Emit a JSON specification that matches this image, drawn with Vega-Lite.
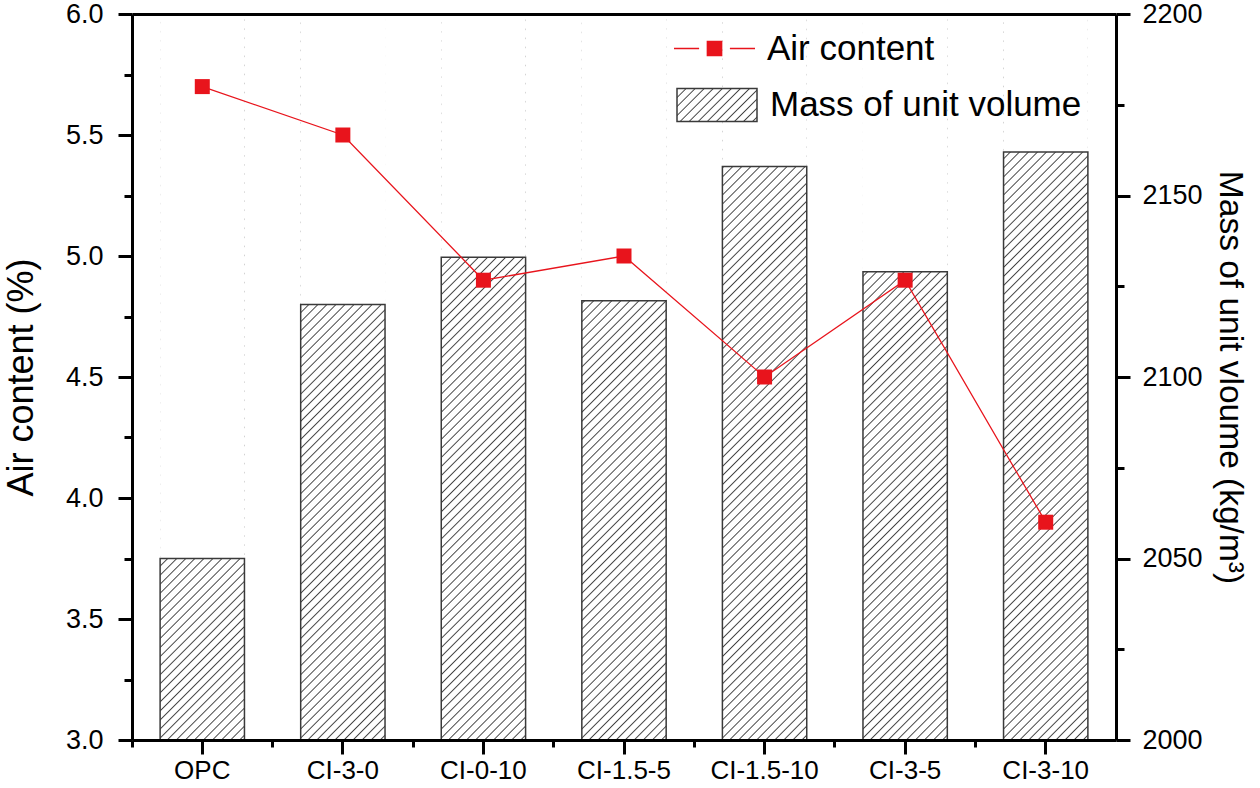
{
"$schema":"https://vega.github.io/schema/vega-lite/v6.json",
"autosize":{"type":"none"},
"padding":{"left":132,"top":14,"right":144,"bottom":48},
"width":984,"height":726,
"background":"white",
"config":{"view":{"stroke":null},"axis":{"grid":false,"labelFont":"Liberation Sans","titleFont":"Liberation Sans","labelColor":"black","titleColor":"black","tickColor":"black","domainColor":"black"},"legend":{"labelFont":"Liberation Sans","labelColor":"black","labelLimit":1000}},
"data":{"values":[
{"sample":"OPC","air":5.7,"mass":2050},
{"sample":"CI-3-0","air":5.5,"mass":2120},
{"sample":"CI-0-10","air":4.9,"mass":2133},
{"sample":"CI-1.5-5","air":5.0,"mass":2121},
{"sample":"CI-1.5-10","air":4.5,"mass":2158},
{"sample":"CI-3-5","air":4.9,"mass":2129},
{"sample":"CI-3-10","air":3.9,"mass":2162}
]},
"resolve":{"scale":{"y":"independent"},"axis":{"x":"independent","y":"independent"}},
"layer":[
{"mark":{"type":"bar","opacity":1,"strokeWidth":1.5,"fill":{"gradient":"linear","x1":0,"y1":0,"x2":9.672,"y2":3.99,"stops":[
{"offset":0,"color":"#444"},{"offset":0.0015,"color":"#fff"},
{"offset":0.0085,"color":"#fff"},{"offset":0.01,"color":"#444"},{"offset":0.0115,"color":"#fff"},
{"offset":0.0185,"color":"#fff"},{"offset":0.02,"color":"#444"},{"offset":0.0215,"color":"#fff"},
{"offset":0.0285,"color":"#fff"},{"offset":0.03,"color":"#444"},{"offset":0.0315,"color":"#fff"},
{"offset":0.0385,"color":"#fff"},{"offset":0.04,"color":"#444"},{"offset":0.0415,"color":"#fff"},
{"offset":0.0485,"color":"#fff"},{"offset":0.05,"color":"#444"},{"offset":0.0515,"color":"#fff"},
{"offset":0.0585,"color":"#fff"},{"offset":0.06,"color":"#444"},{"offset":0.0615,"color":"#fff"},
{"offset":0.0685,"color":"#fff"},{"offset":0.07,"color":"#444"},{"offset":0.0715,"color":"#fff"},
{"offset":0.0785,"color":"#fff"},{"offset":0.08,"color":"#444"},{"offset":0.0815,"color":"#fff"},
{"offset":0.0885,"color":"#fff"},{"offset":0.09,"color":"#444"},{"offset":0.0915,"color":"#fff"},
{"offset":0.0985,"color":"#fff"},{"offset":0.1,"color":"#444"},{"offset":0.1015,"color":"#fff"},
{"offset":0.1085,"color":"#fff"},{"offset":0.11,"color":"#444"},{"offset":0.1115,"color":"#fff"},
{"offset":0.1185,"color":"#fff"},{"offset":0.12,"color":"#444"},{"offset":0.1215,"color":"#fff"},
{"offset":0.1285,"color":"#fff"},{"offset":0.13,"color":"#444"},{"offset":0.1315,"color":"#fff"}
]}},
"encoding":{
"x":{"field":"sample","type":"nominal","sort":null,"scale":{"paddingInner":0.4,"paddingOuter":0.2},"axis":null},
"y":{"datum":2000,"type":"quantitative","scale":{"domain":[2000,2200]},"axis":null},
"y2":{"datum":2000},
"stroke":{"datum":"Mass of unit volume","type":"nominal","scale":{"range":["#3a3a3a"]},
"legend":{"orient":"none","legendX":544,"legendY":50,"title":null,"padding":0,"zindex":1,
"symbolType":"M-1,-0.41H1V0.41H-1Z","symbolSize":6400,"symbolStrokeWidth":1.5,"labelFontSize":35,"labelOffset":12,"labelLimit":1000}}}},
{"mark":{"type":"bar","opacity":1,"fill":{"gradient":"linear","x1":0,"y1":0,"x2":0.14291,"y2":1.23006,"stops":[
{"offset":0,"color":"#444"},{"offset":0.0015,"color":"#fff"},
{"offset":0.0085,"color":"#fff"},{"offset":0.01,"color":"#444"},{"offset":0.0115,"color":"#fff"},
{"offset":0.0185,"color":"#fff"},{"offset":0.02,"color":"#444"},{"offset":0.0215,"color":"#fff"},
{"offset":0.0285,"color":"#fff"},{"offset":0.03,"color":"#444"},{"offset":0.0315,"color":"#fff"},
{"offset":0.0385,"color":"#fff"},{"offset":0.04,"color":"#444"},{"offset":0.0415,"color":"#fff"},
{"offset":0.0485,"color":"#fff"},{"offset":0.05,"color":"#444"},{"offset":0.0515,"color":"#fff"},
{"offset":0.0585,"color":"#fff"},{"offset":0.06,"color":"#444"},{"offset":0.0615,"color":"#fff"},
{"offset":0.0685,"color":"#fff"},{"offset":0.07,"color":"#444"},{"offset":0.0715,"color":"#fff"},
{"offset":0.0785,"color":"#fff"},{"offset":0.08,"color":"#444"},{"offset":0.0815,"color":"#fff"},
{"offset":0.0885,"color":"#fff"},{"offset":0.09,"color":"#444"},{"offset":0.0915,"color":"#fff"},
{"offset":0.0985,"color":"#fff"},{"offset":0.1,"color":"#444"},{"offset":0.1015,"color":"#fff"},
{"offset":0.1085,"color":"#fff"},{"offset":0.11,"color":"#444"},{"offset":0.1115,"color":"#fff"},
{"offset":0.1185,"color":"#fff"},{"offset":0.12,"color":"#444"},{"offset":0.1215,"color":"#fff"},
{"offset":0.1285,"color":"#fff"},{"offset":0.13,"color":"#444"},{"offset":0.1315,"color":"#fff"},
{"offset":0.1385,"color":"#fff"},{"offset":0.14,"color":"#444"},{"offset":0.1415,"color":"#fff"},
{"offset":0.1485,"color":"#fff"},{"offset":0.15,"color":"#444"},{"offset":0.1515,"color":"#fff"},
{"offset":0.1585,"color":"#fff"},{"offset":0.16,"color":"#444"},{"offset":0.1615,"color":"#fff"},
{"offset":0.1685,"color":"#fff"},{"offset":0.17,"color":"#444"},{"offset":0.1715,"color":"#fff"},
{"offset":0.1785,"color":"#fff"},{"offset":0.18,"color":"#444"},{"offset":0.1815,"color":"#fff"},
{"offset":0.1885,"color":"#fff"},{"offset":0.19,"color":"#444"},{"offset":0.1915,"color":"#fff"},
{"offset":0.1985,"color":"#fff"},{"offset":0.2,"color":"#444"},{"offset":0.2015,"color":"#fff"},
{"offset":0.2085,"color":"#fff"},{"offset":0.21,"color":"#444"},{"offset":0.2115,"color":"#fff"},
{"offset":0.2185,"color":"#fff"},{"offset":0.22,"color":"#444"},{"offset":0.2215,"color":"#fff"},
{"offset":0.2285,"color":"#fff"},{"offset":0.23,"color":"#444"},{"offset":0.2315,"color":"#fff"},
{"offset":0.2385,"color":"#fff"},{"offset":0.24,"color":"#444"},{"offset":0.2415,"color":"#fff"},
{"offset":0.2485,"color":"#fff"},{"offset":0.25,"color":"#444"},{"offset":0.2515,"color":"#fff"},
{"offset":0.2585,"color":"#fff"},{"offset":0.26,"color":"#444"},{"offset":0.2615,"color":"#fff"},
{"offset":0.2685,"color":"#fff"},{"offset":0.27,"color":"#444"},{"offset":0.2715,"color":"#fff"},
{"offset":0.2785,"color":"#fff"},{"offset":0.28,"color":"#444"},{"offset":0.2815,"color":"#fff"},
{"offset":0.2885,"color":"#fff"},{"offset":0.29,"color":"#444"},{"offset":0.2915,"color":"#fff"},
{"offset":0.2985,"color":"#fff"},{"offset":0.3,"color":"#444"},{"offset":0.3015,"color":"#fff"},
{"offset":0.3085,"color":"#fff"},{"offset":0.31,"color":"#444"},{"offset":0.3115,"color":"#fff"},
{"offset":0.3185,"color":"#fff"},{"offset":0.32,"color":"#444"},{"offset":0.3215,"color":"#fff"},
{"offset":0.3285,"color":"#fff"},{"offset":0.33,"color":"#444"},{"offset":0.3315,"color":"#fff"},
{"offset":0.3385,"color":"#fff"},{"offset":0.34,"color":"#444"},{"offset":0.3415,"color":"#fff"},
{"offset":0.3485,"color":"#fff"},{"offset":0.35,"color":"#444"},{"offset":0.3515,"color":"#fff"},
{"offset":0.3585,"color":"#fff"},{"offset":0.36,"color":"#444"},{"offset":0.3615,"color":"#fff"},
{"offset":0.3685,"color":"#fff"},{"offset":0.37,"color":"#444"},{"offset":0.3715,"color":"#fff"},
{"offset":0.3785,"color":"#fff"},{"offset":0.38,"color":"#444"},{"offset":0.3815,"color":"#fff"},
{"offset":0.3885,"color":"#fff"},{"offset":0.39,"color":"#444"},{"offset":0.3915,"color":"#fff"},
{"offset":0.3985,"color":"#fff"},{"offset":0.4,"color":"#444"},{"offset":0.4015,"color":"#fff"},
{"offset":0.4085,"color":"#fff"},{"offset":0.41,"color":"#444"},{"offset":0.4115,"color":"#fff"},
{"offset":0.4185,"color":"#fff"},{"offset":0.42,"color":"#444"},{"offset":0.4215,"color":"#fff"},
{"offset":0.4285,"color":"#fff"},{"offset":0.43,"color":"#444"},{"offset":0.4315,"color":"#fff"},
{"offset":0.4385,"color":"#fff"},{"offset":0.44,"color":"#444"},{"offset":0.4415,"color":"#fff"},
{"offset":0.4485,"color":"#fff"},{"offset":0.45,"color":"#444"},{"offset":0.4515,"color":"#fff"},
{"offset":0.4585,"color":"#fff"},{"offset":0.46,"color":"#444"},{"offset":0.4615,"color":"#fff"},
{"offset":0.4685,"color":"#fff"},{"offset":0.47,"color":"#444"},{"offset":0.4715,"color":"#fff"},
{"offset":0.4785,"color":"#fff"},{"offset":0.48,"color":"#444"},{"offset":0.4815,"color":"#fff"},
{"offset":0.4885,"color":"#fff"},{"offset":0.49,"color":"#444"},{"offset":0.4915,"color":"#fff"},
{"offset":0.4985,"color":"#fff"},{"offset":0.5,"color":"#444"},{"offset":0.5015,"color":"#fff"},
{"offset":0.5085,"color":"#fff"},{"offset":0.51,"color":"#444"},{"offset":0.5115,"color":"#fff"},
{"offset":0.5185,"color":"#fff"},{"offset":0.52,"color":"#444"},{"offset":0.5215,"color":"#fff"},
{"offset":0.5285,"color":"#fff"},{"offset":0.53,"color":"#444"},{"offset":0.5315,"color":"#fff"},
{"offset":0.5385,"color":"#fff"},{"offset":0.54,"color":"#444"},{"offset":0.5415,"color":"#fff"},
{"offset":0.5485,"color":"#fff"},{"offset":0.55,"color":"#444"},{"offset":0.5515,"color":"#fff"},
{"offset":0.5585,"color":"#fff"},{"offset":0.56,"color":"#444"},{"offset":0.5615,"color":"#fff"},
{"offset":0.5685,"color":"#fff"},{"offset":0.57,"color":"#444"},{"offset":0.5715,"color":"#fff"},
{"offset":0.5785,"color":"#fff"},{"offset":0.58,"color":"#444"},{"offset":0.5815,"color":"#fff"},
{"offset":0.5885,"color":"#fff"},{"offset":0.59,"color":"#444"},{"offset":0.5915,"color":"#fff"},
{"offset":0.5985,"color":"#fff"},{"offset":0.6,"color":"#444"},{"offset":0.6015,"color":"#fff"},
{"offset":0.6085,"color":"#fff"},{"offset":0.61,"color":"#444"},{"offset":0.6115,"color":"#fff"},
{"offset":0.6185,"color":"#fff"},{"offset":0.62,"color":"#444"},{"offset":0.6215,"color":"#fff"},
{"offset":0.6285,"color":"#fff"},{"offset":0.63,"color":"#444"},{"offset":0.6315,"color":"#fff"},
{"offset":0.6385,"color":"#fff"},{"offset":0.64,"color":"#444"},{"offset":0.6415,"color":"#fff"},
{"offset":0.6485,"color":"#fff"},{"offset":0.65,"color":"#444"},{"offset":0.6515,"color":"#fff"},
{"offset":0.6585,"color":"#fff"},{"offset":0.66,"color":"#444"},{"offset":0.6615,"color":"#fff"},
{"offset":0.6685,"color":"#fff"},{"offset":0.67,"color":"#444"},{"offset":0.6715,"color":"#fff"},
{"offset":0.6785,"color":"#fff"},{"offset":0.68,"color":"#444"},{"offset":0.6815,"color":"#fff"},
{"offset":0.6885,"color":"#fff"},{"offset":0.69,"color":"#444"},{"offset":0.6915,"color":"#fff"},
{"offset":0.6985,"color":"#fff"},{"offset":0.7,"color":"#444"},{"offset":0.7015,"color":"#fff"},
{"offset":0.7085,"color":"#fff"},{"offset":0.71,"color":"#444"},{"offset":0.7115,"color":"#fff"},
{"offset":0.7185,"color":"#fff"},{"offset":0.72,"color":"#444"},{"offset":0.7215,"color":"#fff"},
{"offset":0.7285,"color":"#fff"},{"offset":0.73,"color":"#444"},{"offset":0.7315,"color":"#fff"},
{"offset":0.7385,"color":"#fff"},{"offset":0.74,"color":"#444"},{"offset":0.7415,"color":"#fff"},
{"offset":0.7485,"color":"#fff"},{"offset":0.75,"color":"#444"},{"offset":0.7515,"color":"#fff"},
{"offset":0.7585,"color":"#fff"},{"offset":0.76,"color":"#444"},{"offset":0.7615,"color":"#fff"},
{"offset":0.7685,"color":"#fff"},{"offset":0.77,"color":"#444"},{"offset":0.7715,"color":"#fff"},
{"offset":0.7785,"color":"#fff"},{"offset":0.78,"color":"#444"},{"offset":0.7815,"color":"#fff"},
{"offset":0.7885,"color":"#fff"},{"offset":0.79,"color":"#444"},{"offset":0.7915,"color":"#fff"},
{"offset":0.7985,"color":"#fff"},{"offset":0.8,"color":"#444"},{"offset":0.8015,"color":"#fff"},
{"offset":0.8085,"color":"#fff"},{"offset":0.81,"color":"#444"},{"offset":0.8115,"color":"#fff"},
{"offset":0.8185,"color":"#fff"},{"offset":0.82,"color":"#444"},{"offset":0.8215,"color":"#fff"},
{"offset":0.8285,"color":"#fff"},{"offset":0.83,"color":"#444"},{"offset":0.8315,"color":"#fff"},
{"offset":0.8385,"color":"#fff"},{"offset":0.84,"color":"#444"},{"offset":0.8415,"color":"#fff"},
{"offset":0.8485,"color":"#fff"},{"offset":0.85,"color":"#444"},{"offset":0.8515,"color":"#fff"},
{"offset":0.8585,"color":"#fff"},{"offset":0.86,"color":"#444"},{"offset":0.8615,"color":"#fff"},
{"offset":0.8685,"color":"#fff"},{"offset":0.87,"color":"#444"},{"offset":0.8715,"color":"#fff"},
{"offset":0.8785,"color":"#fff"},{"offset":0.88,"color":"#444"},{"offset":0.8815,"color":"#fff"},
{"offset":0.8885,"color":"#fff"},{"offset":0.89,"color":"#444"},{"offset":0.8915,"color":"#fff"},
{"offset":0.8985,"color":"#fff"},{"offset":0.9,"color":"#444"},{"offset":0.9015,"color":"#fff"}
]}},
"encoding":{
"x":{"field":"sample","type":"nominal","sort":null,
"axis":{"orient":"bottom","title":null,"labelAngle":0,"labelFontSize":26,"labelPadding":3,"tickSize":14,"tickWidth":3,"domainWidth":3,"zindex":1}},
"y":{"datum":2200,"type":"quantitative","scale":{"domain":[2000,2200]},"axis":null},
"y2":{"datum":2000}}},
{"mark":{"type":"bar","opacity":1,"fill":"white"},
"encoding":{
"x":{"field":"sample","type":"nominal","sort":null,
"axis":{"orient":"bottom","title":null,"labels":false,"domain":false,"bandPosition":-0.3333,"tickSize":7,"tickWidth":3,"zindex":1}},
"y":{"field":"mass","type":"quantitative","scale":{"domain":[2000,2200]},"axis":null},
"y2":{"datum":2200}}},
{"mark":{"type":"bar","opacity":1,"filled":false,"stroke":"#3a3a3a","strokeWidth":1.5},
"encoding":{
"x":{"field":"sample","type":"nominal","sort":null,
"axis":{"orient":"top","title":null,"labels":false,"ticks":false,"domain":true,"domainWidth":3,"zindex":1}},
"y":{"field":"mass","type":"quantitative","scale":{"domain":[2000,2200]},
"axis":{"orient":"right","title":"Mass of unit vloume (kg/m³)","titleFontSize":33.5,"titleFontWeight":"normal","titlePadding":10,
"values":[2000,2025,2050,2075,2100,2125,2150,2175,2200],
"labelExpr":"datum.value % 50 === 0 ? format(datum.value, 'd') : ''",
"labelFontSize":27,"labelPadding":12,"labelOverlap":false,"labelFlush":false,
"tickSize":{"condition":{"test":"datum.value % 50 !== 0","value":8},"value":14},
"tickWidth":3,"domainWidth":3,"zindex":1}},
"y2":{"datum":2000}}},
{"mark":{"type":"line","color":"#e8141c","strokeWidth":1.3},
"encoding":{
"x":{"field":"sample","type":"nominal","sort":null,"axis":null},
"y":{"field":"air","type":"quantitative","scale":{"domain":[3,6]},"axis":null}}},
{"mark":{"type":"square","size":225,"opacity":1,"filled":true},
"encoding":{
"x":{"field":"sample","type":"nominal","sort":null,"axis":null},
"y":{"field":"air","type":"quantitative","scale":{"domain":[3,6]},
"axis":{"orient":"left","title":"Air content (%)","titleFontSize":36,"titleFontWeight":"normal","titlePadding":25,
"values":[3,3.25,3.5,3.75,4,4.25,4.5,4.75,5,5.25,5.5,5.75,6],
"labelExpr":"datum.value % 0.5 === 0 ? format(datum.value, '.1f') : ''",
"labelFontSize":27,"labelPadding":15,"labelOverlap":false,"labelFlush":false,
"tickSize":{"condition":{"test":"datum.value % 0.5 !== 0","value":8},"value":14},
"tickWidth":3,"domainWidth":3,"zindex":1}},
"fill":{"datum":"Air content","type":"nominal","scale":{"range":["#e8141c"]},
"legend":{"orient":"none","legendX":541,"legendY":-7,"title":null,"padding":0,"zindex":1,
"symbolType":"M-1,0H-0.38M-0.175,-0.175H0.175V0.175H-0.175ZM0.38,0H1","symbolSize":6561,
"symbolStrokeColor":"#e8141c","symbolStrokeWidth":1.5,"labelFontSize":35,"labelOffset":11,"labelLimit":1000}}}}
]
}
